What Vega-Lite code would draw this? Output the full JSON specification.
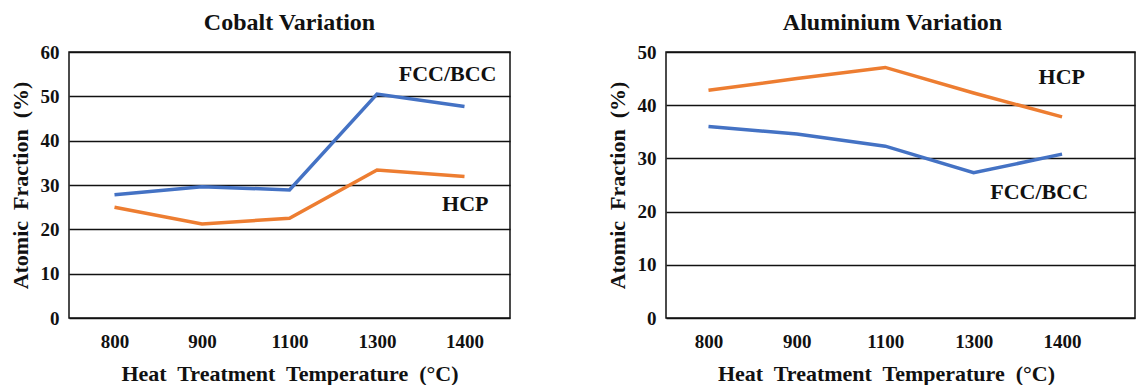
{
  "$schema": "https://vega.github.io/schema/vega-lite/v6.json",
  "padding": {"left": 8, "top": 10, "right": 0, "bottom": 0},
  "background": "white",
  "datasets": {
    "cobalt": [
      {"temp": "800", "phase": "FCC/BCC", "value": 27.8},
      {"temp": "900", "phase": "FCC/BCC", "value": 29.6},
      {"temp": "1100", "phase": "FCC/BCC", "value": 28.9},
      {"temp": "1300", "phase": "FCC/BCC", "value": 50.5},
      {"temp": "1400", "phase": "FCC/BCC", "value": 47.7},
      {"temp": "800", "phase": "HCP", "value": 25.0},
      {"temp": "900", "phase": "HCP", "value": 21.2},
      {"temp": "1100", "phase": "HCP", "value": 22.5},
      {"temp": "1300", "phase": "HCP", "value": 33.4},
      {"temp": "1400", "phase": "HCP", "value": 31.9}
    ],
    "aluminium": [
      {"temp": "800", "phase": "FCC/BCC", "value": 36.0},
      {"temp": "900", "phase": "FCC/BCC", "value": 34.6},
      {"temp": "1100", "phase": "FCC/BCC", "value": 32.3},
      {"temp": "1300", "phase": "FCC/BCC", "value": 27.3},
      {"temp": "1400", "phase": "FCC/BCC", "value": 30.8},
      {"temp": "800", "phase": "HCP", "value": 42.8},
      {"temp": "900", "phase": "HCP", "value": 45.0},
      {"temp": "1100", "phase": "HCP", "value": 47.1},
      {"temp": "1300", "phase": "HCP", "value": 42.3},
      {"temp": "1400", "phase": "HCP", "value": 37.8}
    ]
  },
  "config": {
    "font": "Liberation Serif",
    "view": {"stroke": "#111", "strokeWidth": 1.5},
    "axis": {
      "labelFont": "Liberation Serif",
      "labelFontWeight": "bold",
      "labelFontSize": 19,
      "labelColor": "#111",
      "titleFont": "Liberation Serif",
      "titleFontWeight": "bold",
      "titleFontSize": 22,
      "titleColor": "#111",
      "domain": false,
      "ticks": false
    },
    "title": {"font": "Liberation Serif", "fontWeight": "bold", "fontSize": 24, "color": "#111"}
  },
  "spacing": 94,
  "hconcat": [
    {
      "title": {"text": "Cobalt Variation", "offset": 8},
      "width": 441,
      "height": 266,
      "data": {"name": "cobalt"},
      "encoding": {
        "x": {"field": "temp", "type": "ordinal", "sort": null,
              "scale": {"type": "point", "padding": 0.52},
              "axis": {"labelAngle": 0, "labelPadding": 14, "title": "Heat\u00a0 Treatment\u00a0 Temperature\u00a0 (°C)", "titlePadding": 12, "grid": false}},
        "y": {"field": "value", "type": "quantitative",
              "scale": {"domain": [0, 60]},
              "axis": {"values": [0, 10, 20, 30, 40, 50, 60], "grid": true, "gridColor": "#111", "gridWidth": 1.5, "gridOpacity": 1, "labelPadding": 10, "title": "Atomic\u00a0 Fraction\u00a0 (%)", "titlePadding": 8}}
      },
      "layer": [
        {
          "mark": {"type": "line", "strokeWidth": 3.5},
          "encoding": {
            "color": {"field": "phase", "type": "nominal", "scale": {"domain": ["FCC/BCC", "HCP"], "range": ["#4472C4", "#ED7D31"]}, "legend": null}
          }
        },
        {
          "transform": [{"filter": "datum.temp == '1400' && datum.phase == 'FCC/BCC'"}],
          "mark": {"type": "text", "align": "right", "baseline": "middle", "dx": 32, "dy": -33, "fontSize": 22, "fontWeight": "bold", "color": "#111"},
          "encoding": {"text": {"field": "phase"}}
        },
        {
          "transform": [{"filter": "datum.temp == '1400' && datum.phase == 'HCP'"}],
          "mark": {"type": "text", "align": "right", "baseline": "middle", "dx": 24, "dy": 27, "fontSize": 22, "fontWeight": "bold", "color": "#111"},
          "encoding": {"text": {"field": "phase"}}
        }
      ]
    },
    {
      "title": {"text": "Aluminium Variation", "offset": 8, "dx": -8},
      "width": 469,
      "height": 266,
      "data": {"name": "aluminium"},
      "encoding": {
        "x": {"field": "temp", "type": "ordinal", "sort": null,
              "scale": {"type": "point", "padding": 0.653, "align": 0.368},
              "axis": {"labelAngle": 0, "labelPadding": 14, "title": "Heat\u00a0 Treatment\u00a0 Temperature\u00a0 (°C)", "titlePadding": 12, "titleX": 220, "grid": false}},
        "y": {"field": "value", "type": "quantitative",
              "scale": {"domain": [0, 50]},
              "axis": {"values": [0, 10, 20, 30, 40, 50], "grid": true, "gridColor": "#111", "gridWidth": 1.5, "gridOpacity": 1, "labelPadding": 10, "title": "Atomic\u00a0 Fraction\u00a0 (%)", "titlePadding": 8}}
      },
      "layer": [
        {
          "mark": {"type": "line", "strokeWidth": 3.5},
          "encoding": {
            "color": {"field": "phase", "type": "nominal", "scale": {"domain": ["FCC/BCC", "HCP"], "range": ["#4472C4", "#ED7D31"]}, "legend": null}
          }
        },
        {
          "transform": [{"filter": "datum.temp == '1400' && datum.phase == 'HCP'"}],
          "mark": {"type": "text", "align": "right", "baseline": "middle", "dx": 23, "dy": -40, "fontSize": 22, "fontWeight": "bold", "color": "#111"},
          "encoding": {"text": {"field": "phase"}}
        },
        {
          "transform": [{"filter": "datum.temp == '1400' && datum.phase == 'FCC/BCC'"}],
          "mark": {"type": "text", "align": "right", "baseline": "middle", "dx": 26, "dy": 38, "fontSize": 22, "fontWeight": "bold", "color": "#111"},
          "encoding": {"text": {"field": "phase"}}
        }
      ]
    }
  ]
}
